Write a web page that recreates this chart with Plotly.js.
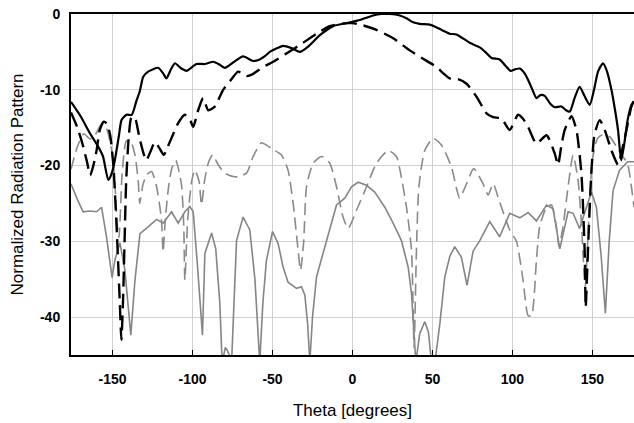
<!DOCTYPE html>
<html>
<head>
<meta charset="utf-8">
<script src="https://cdn.plot.ly/plotly-3.0.1.min.js"></script>
<style>html,body{margin:0;padding:0;background:#fff;}#chart{width:634px;height:423px;}</style>
</head>
<body>
<div id="chart"></div>
<script>
// Black solid
const blackSolidTheta = [-176,-170,-164,-159,-156,-152.7,-150.5,-148.6,-146,-144.4,-141.3,-138,-135,-133,-130.9,-127.8,-121.5,-118.5,-116.3,-113.5,-111,-107,-103.8,-97.5,-92.3,-87,-83,-79.8,-74.6,-68.4,-62,-58,-55,-51.7,-47,-43.4,-38.1,-32.9,-27.7,-20.4,-12.1,-3.7,4.6,12.9,18,23.3,29.6,34,37.9,42,48.3,52,56.6,60.8,65,73.3,79.6,83,86.9,92,95.5,98.8,101.5,104.6,107.5,109.8,112.5,115,117.5,120.2,123.5,126.4,130.6,133.5,135.8,139,142,145,148.3,151,153.5,156.6,159,161.9,164,166,168,170,172,174.4,176];
const blackSolidVal = [-11.6,-13.5,-15.8,-17.5,-18.8,-21.9,-21,-19.3,-16,-14,-13.3,-13.3,-11.4,-10.2,-8.3,-7.6,-7.1,-7.8,-8.5,-7.3,-6.5,-7.2,-7.5,-6.6,-6.6,-6.3,-6.7,-7.1,-6.4,-5.6,-6.2,-6.0,-5.6,-5.0,-4.5,-4.2,-4.5,-5.0,-4.3,-2.8,-1.6,-1.2,-0.8,-0.2,0,0,-0.2,-0.6,-1.1,-1.3,-1.4,-1.7,-2.2,-2.6,-2.7,-3.8,-4.4,-5,-5.8,-6.0,-6.8,-7.5,-7.3,-7.2,-7.8,-8.7,-10,-11.1,-10.7,-10.8,-11.8,-12.3,-12.2,-12.7,-12.9,-11,-9.6,-10.8,-12.0,-10,-7.6,-6.5,-7.5,-10,-12.5,-15.3,-19.3,-17,-14,-12,-11.5];

// Black dashed
const blackDashTheta = [-176,-172,-169,-166,-164,-162,-160,-158,-155.5,-153.5,-151.5,-149.5,-147.5,-145.5,-144.5,-143.5,-142.5,-141.5,-140,-138.5,-137,-135.5,-133,-129,-126,-123.6,-121,-118,-115.5,-112,-109,-104.8,-101.5,-99.6,-96.5,-93.4,-90.2,-86,-80.9,-76.7,-71.5,-66.3,-63,-60,-55.9,-49.6,-41.3,-33,-22.5,-14.2,-3.7,0,6.6,15,25.4,35.8,44.1,52.5,56.6,60.8,66,71.3,77.5,83.8,87.9,93.1,98.3,103.5,106.5,109.8,115,121.3,126.4,128.5,130.5,132.7,136.9,140,143.1,145.2,145.8,147.3,149.4,151.4,154.6,157.7,161.9,166,168.5,171.3,174.4,176];
const blackDashVal = [-13,-15,-17,-19.5,-21.3,-20,-18,-15.3,-14.2,-14.5,-16,-20,-28,-38,-43,-38,-30,-22,-16.5,-13.8,-13.5,-14,-16.5,-19.3,-18,-16.9,-17.6,-18.6,-17.5,-15.8,-14.4,-13.3,-14,-14.9,-12.7,-11.1,-12.7,-12.2,-10,-8.9,-7.6,-8.2,-8.0,-7.6,-7.0,-6.3,-5.2,-4.1,-2.6,-1.6,-1.2,-1.2,-1.5,-2.1,-3.2,-4.8,-5.9,-7.0,-7.8,-8.5,-8.6,-9.2,-10.9,-13.1,-13.6,-13.8,-15.3,-13.3,-13.8,-14.9,-17.1,-16.0,-18.4,-19.9,-17.5,-15.3,-13.5,-15.3,-21,-31.6,-38.7,-30.7,-20.6,-15.8,-14,-15.3,-18,-19.9,-18,-15.3,-12.2,-11.5];

// Gray solid
const graySolidTheta = [-176,-172,-168.4,-164.2,-160,-156.9,-153.8,-150.3,-148.6,-145.4,-142.3,-138.6,-136,-132.9,-127.8,-122.5,-118.4,-113.1,-109,-104.8,-101.7,-99.6,-97,-93.8,-92.3,-88.1,-85.5,-83,-81.5,-79.5,-78.5,-77,-75.6,-74,-72.5,-68.4,-64.2,-61,-59,-58,-56,-53.8,-50,-46.5,-43.4,-40.3,-35,-31.9,-29.8,-28,-26.7,-25,-22.5,-17.3,-10,-4.8,-0.6,3.5,8.75,13.9,20.2,25.4,30.6,34.8,36.9,39.6,42,45.2,47.5,49.4,51.5,54.6,57.7,60.8,63.9,68.1,71.6,75.4,79.6,85.8,92,98.3,104.6,109.8,115,121.3,125.4,129.6,134.8,137.9,142,145.5,149.4,152.5,155.5,158.1,160.5,162.9,167,172,176];
const graySolidVal = [-22.4,-24.5,-26.1,-26,-26.1,-25.5,-29.4,-34.8,-32.5,-30.2,-33.8,-42.4,-35.1,-29,-28.1,-27.1,-27.6,-26.1,-27.6,-26.1,-25.4,-26.1,-33,-42.4,-31.6,-28.9,-31,-38,-46,-44,-44.3,-45,-46,-38,-29.9,-26.8,-28.5,-35,-43.5,-46,-38,-32.5,-28.7,-30.3,-33.4,-35.4,-36.2,-36,-37.1,-41,-46,-40,-34.7,-30.7,-25.2,-24.3,-22.8,-22.2,-22.6,-23.5,-25.5,-27.6,-29.9,-33.4,-36.9,-46,-42.2,-40.6,-42,-46,-46,-40.9,-34.7,-32,-30.7,-32.1,-35.8,-31.3,-29.9,-27.4,-29.4,-26.3,-26.9,-26.2,-27.3,-25.2,-25.7,-31,-26.1,-26.3,-28.3,-26,-23.5,-25.5,-32,-39.5,-30,-23.3,-20.6,-19.5,-19.5];

// Gray dashed
const grayDashTheta = [-176,-172,-168,-164,-161,-157,-154,-151,-149,-147,-146,-144,-141.5,-139,-136,-134,-133,-131,-128.5,-125.6,-122.5,-119.5,-118.4,-117,-115,-113,-110.5,-107,-105.5,-104.8,-103,-100.5,-98.6,-96,-94.4,-92.5,-90.2,-87.5,-84,-79.8,-72.5,-66.3,-62.1,-57,-53.8,-49.6,-44.4,-40.3,-37.1,-34,-32.5,-30.5,-28.75,-24.6,-19.4,-14.2,-10,-5.9,-2.7,2.5,8.75,15,22.3,27.5,29.6,33.75,36.9,38.5,40,41.5,45.2,50.4,55.6,61.9,65,67,71.3,75.8,81.6,84.8,87.9,92,98.3,102.5,106.6,109.8,111.9,115,117,121.3,124.4,127.5,129.1,131.6,134.8,137.9,141,143.1,145.5,147.5,150,153,155.6,160.8,165,169,172,176];
const grayDashVal = [-20.5,-17.5,-15.8,-16.5,-16,-14.6,-15,-17.5,-21,-28,-29.5,-21,-16.8,-16.6,-18.6,-22,-25,-22.5,-21.2,-20.8,-22.8,-27,-31.4,-27,-22.8,-20.4,-19.3,-22.4,-28,-35.1,-27,-22,-20.6,-22,-25.2,-22,-19.7,-18.6,-19.9,-21,-21.5,-21,-18.8,-17,-17.3,-17.9,-18.6,-20.6,-25,-31.2,-33.8,-30,-22.8,-19.7,-18.8,-19.7,-22.8,-26.8,-28.3,-25.9,-22.8,-19.7,-18,-18.8,-20.5,-25.5,-31.2,-44,-31,-22.8,-18,-16.4,-17.3,-20.2,-23,-24.3,-22.4,-20.4,-22.4,-23.9,-22.4,-24.8,-28.5,-30,-35.1,-39.8,-39.8,-32.5,-28.1,-25.5,-25.2,-28.1,-30.7,-28.1,-22.8,-18.6,-21.9,-27.6,-36,-28,-19.3,-16.5,-16,-16.2,-17.5,-18.8,-19.8,-25.5];

const xTicks = [-150,-100,-50,0,50,100,150];
const yTicks = [0,-10,-20,-30,-40];

const traces = [
  {x: graySolidTheta, y: graySolidVal, mode:'lines', line:{color:'#858585', width:1.6}},
  {x: grayDashTheta, y: grayDashVal, mode:'lines', line:{color:'#8a8a8a', width:1.6, dash:'12px,6px', shape:'spline', smoothing:0.6}},
  {x: blackDashTheta, y: blackDashVal, mode:'lines', line:{color:'#000', width:2.4, dash:'15px,7px', shape:'spline', smoothing:0.6}},
  {x: blackSolidTheta, y: blackSolidVal, mode:'lines', line:{color:'#000', width:2.2, shape:'spline', smoothing:0.6}}
];

const layout = {
  width:634, height:423,
  margin:{l:71, r:0, t:14, b:68},
  paper_bgcolor:'#fff', plot_bgcolor:'#fff',
  showlegend:false,
  font:{family:'"Liberation Sans", Arial, sans-serif', color:'#000'},
  xaxis:{
    range:[-176,176], tickvals:xTicks, ticktext:xTicks.map(String),
    showgrid:true, gridcolor:'#cfcfcf', gridwidth:1, zeroline:false,
    showline:true, linecolor:'#000', linewidth:2, mirror:true,
    ticks:'inside', ticklen:5, tickcolor:'#000', tickwidth:1,
    tickfont:{size:14, family:'"Liberation Sans", Arial, sans-serif', weight:'bold'},
    ticklabelstandoff:10,
    title:{text:'Theta [degrees]', font:{size:17}, standoff:18}
  },
  yaxis:{
    range:[-45,0], tickvals:yTicks, ticktext:yTicks.map(String),
    showgrid:true, gridcolor:'#cfcfcf', gridwidth:1, zeroline:false,
    showline:true, linecolor:'#000', linewidth:2,
    ticks:'', tickfont:{size:14, family:'"Liberation Sans", Arial, sans-serif', weight:'bold'},
    ticklabelstandoff:6,
    title:{text:'Normalized Radiation Pattern', font:{size:17}, standoff:12}
  }
};

Plotly.newPlot('chart', traces, layout, {displayModeBar:false, staticPlot:true});
</script>
</body>
</html>
